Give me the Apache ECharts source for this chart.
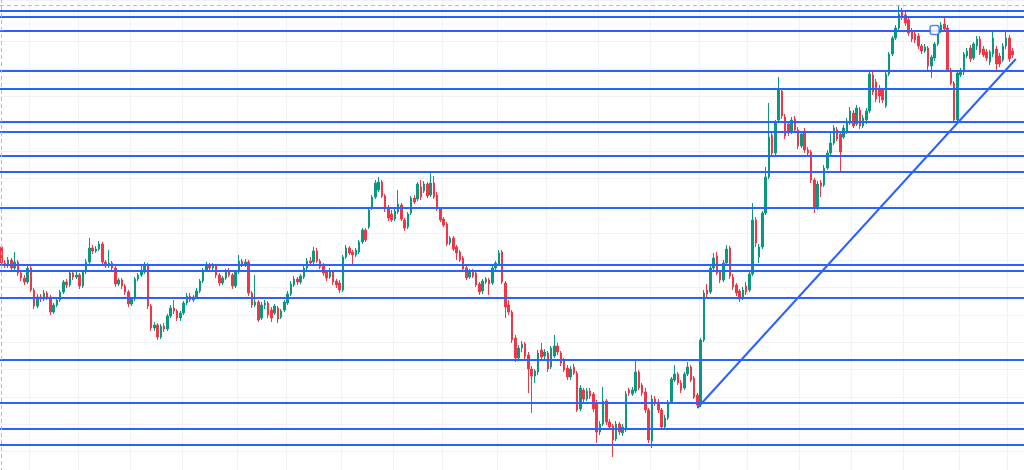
<!DOCTYPE html>
<html><head><meta charset="utf-8">
<script src="https://cdn.jsdelivr.net/npm/echarts@6/dist/echarts.min.js"></script>
<style>html,body{margin:0;padding:0;background:#fff;overflow:hidden}#c{width:1024px;height:470px}</style>
</head><body><div id="c"></div>
<script>
// [open, close, low, high]
const candles = [
[232,216,213,235],[216,214,211,219],[214,219,211,222],[219,211,208,221],[211,217,209,227],
[217,206,203,219],[206,201,198,209],[201,197,194,204],[197,211,195,213],[211,189,187,213],
[189,173,170,191],[173,182,171,185],[182,180,177,185],[180,186,178,189],[186,182,179,188],
[182,167,164,184],[167,174,165,176],[174,179,172,181],[179,187,177,189],[187,197,185,199],
[197,194,191,200],[194,206,192,208],[206,202,199,209],[202,204,200,207],[204,193,190,206],
[193,207,191,209],[207,217,205,220],[217,231,215,241],[231,228,225,234],[228,230,226,233],
[230,235,228,238],[235,217,214,237],[217,213,211,219],[213,216,211,229],[216,211,208,218],
[211,195,192,213],[195,199,193,201],[199,193,190,201],[193,187,184,195],[187,175,172,189],
[175,180,173,182],[180,200,178,202],[200,204,198,206],[204,207,202,215],[207,214,205,217],
[214,173,170,216],[173,151,148,175],[151,154,148,157],[154,142,139,156],[142,153,140,155],
[153,150,147,156],[150,163,148,165],[163,171,161,174],[171,168,165,179],[168,161,158,170],
[161,166,158,168],[166,176,164,178],[176,183,174,186],[183,179,177,186],[179,182,177,184],
[182,188,180,191],[188,198,186,200],[198,209,196,211],[209,214,207,217],[214,211,209,216],
[211,213,209,216],[213,204,201,215],[204,196,193,206],[196,201,194,203],[201,208,199,210],
[208,204,202,211],[204,193,190,206],[193,207,191,209],[207,218,205,224],[218,214,212,220],
[214,217,212,220],[217,186,183,219],[186,174,171,188],[174,177,172,204],[177,159,157,179],
[161,174,159,177],[174,176,170,179],[176,164,161,178],[169,161,157,172],[166,173,164,175],
[171,160,156,173],[162,168,160,170],[169,177,167,179],[176,185,174,188],[185,195,183,198],
[194,200,192,203],[200,197,194,202],[197,203,195,205],[202,211,200,214],[211,218,209,221],
[218,216,213,222],[217,228,215,232],[228,218,216,231],[218,212,210,220],[213,206,203,216],
[207,201,198,209],[202,208,200,211],[207,197,194,209],[198,194,191,200],[196,189,186,199],
[189,222,187,224],[222,231,220,234],[231,226,224,233],[227,224,214,229],[224,229,222,231],
[227,237,225,239],[237,249,235,251],[249,239,237,251],[252,269,250,271],[271,282,269,284],
[282,296,280,299],[289,297,287,302],[297,283,281,299],[283,270,267,285],[271,261,258,274],
[265,259,257,269],[260,268,258,271],[267,275,265,289],[274,260,258,276],[259,251,248,261],
[252,265,250,267],[266,281,264,283],[281,277,275,284],[280,295,278,297],[292,282,279,299],
[288,295,286,298],[295,283,281,297],[284,296,282,306],[296,282,280,303],[284,270,268,287],
[270,259,257,272],[260,254,252,262],[255,235,233,257],[236,241,234,243],[241,230,228,243],
[232,226,219,234],[227,219,217,229],[221,210,207,223],[211,201,199,213],[202,208,200,210],
[208,203,201,210],[206,194,192,208],[195,187,184,197],[188,198,185,200],[197,200,195,202],
[199,195,184,201],[196,211,194,213],[211,216,209,218],[215,226,213,229],[227,197,195,229],
[196,172,161,198],[174,167,164,179],[167,139,136,169],
[141,121,117,144],[121,131,118,134],[131,135,127,138],[135,123,119,137],[124,110,86,127],
[110,103,66,113],[103,108,96,110],[107,126,104,129],[129,122,120,136],[123,127,120,130],
[126,110,107,128],[112,131,110,133],[123,133,121,144],[133,127,124,136],[126,116,113,128],
[118,109,107,121],[111,102,99,114],[102,110,99,113],[112,106,104,115],[106,69,67,108],
[70,91,68,94],[89,80,77,91],[80,88,78,91],[88,83,80,91],[85,70,67,87],
[75,47,36,79],[47,55,44,58],[55,78,53,92],[78,57,54,80],[57,52,49,60],
[53,39,22,55],[40,55,38,58],[55,47,44,57],[46,52,43,55],[49,85,47,88],
[89,86,83,91],[85,89,83,92],[88,107,86,119],[107,91,89,109],[94,86,83,96],
[87,69,66,91],[69,39,36,71],[38,80,31,84],[80,76,73,83],[77,69,66,80],
[69,52,49,71],[52,61,50,64],[61,77,59,79],[77,100,75,102],[99,105,97,114],
[105,96,94,107],[96,89,86,99],[91,105,89,107],[105,112,103,117],[112,99,97,114],
[101,82,80,103],[84,74,71,86],
[75,139,72,141],[139,186,137,189],[189,185,182,195],[187,211,185,214],[211,221,207,226],
[223,206,204,227],[207,199,196,209],[199,216,197,219],[216,230,214,234],[231,203,200,233],
[202,192,189,205],[194,186,183,196],[188,180,177,190],[181,189,179,192],[193,187,184,197],
[189,205,187,207],[205,259,203,276],[259,236,232,262],[222,232,216,235],[232,266,230,268],
[266,302,264,312],[302,342,300,376],[344,326,323,347],[326,356,323,359],
[359,389,356,402],[388,363,360,391],[362,343,340,365],[355,346,343,358],[347,359,345,362],
[360,349,347,363],[349,333,330,352],[333,345,331,348],[348,329,326,351],[329,326,323,332],
[327,299,296,329],[299,271,266,301],[272,295,269,298],[296,293,282,299],[294,311,292,314],
[311,326,309,329],[326,336,324,346],[336,351,334,354],[349,340,338,352],[345,327,306,348],
[342,351,340,354],[347,358,345,361],[356,368,354,372],[366,353,351,369],[355,371,353,374],
[369,353,350,372],[353,361,351,364],[359,368,355,371],[368,405,366,407],[404,387,384,407],
[397,380,377,400],[391,383,376,394],[389,379,376,391],[373,405,371,407],[405,425,403,427],
[425,441,423,443],[441,451,439,454],[451,465,449,474],[467,461,459,471],[464,456,453,467],
[459,446,443,462],[448,440,437,451],[445,439,436,449],[443,433,430,446],[433,428,425,435],
[428,432,426,435],[431,413,409,433],[413,422,401,424],[421,435,418,437],[435,448,433,450],
[448,454,446,457],[455,450,448,462],[451,409,407,454],[409,396,394,411],[396,359,356,398],
[359,406,356,409],[404,408,402,411],[407,425,404,427],[423,428,421,431],[431,420,417,434],
[421,435,419,437],[433,440,429,443],[440,426,424,443],[430,424,422,433],[427,421,418,430],
[417,427,414,429],[425,441,422,449],[430,415,409,433],[423,415,412,426],[419,433,417,436],
[433,441,430,448],[441,420,417,444],[428,424,421,431]
];
const levels = [468.3, 462.7, 448.7, 408.2, 390.7, 356.9, 347.5, 323.2, 307.7, 271, 214, 208.3, 181.7, 119.7, 76.3, 50.3, 33.8];
const trendLine = [[214, 71], [312, 420]];
const handlePoint = [[287, 449]];
const gridColumns = [9, 24, 40, 56, 73, 88, 105, 121, 136, 153, 168, 184, 200, 215, 230, 246, 262, 278, 295, 310];
const topBound = 474;
const emptySlots = 3;

const categories = [];
for (let i = 0; i < candles.length + emptySlots; i++) categories.push(String(i));
const colSet = new Set(gridColumns);

const BLUE = '#2962ff';
const chart = echarts.init(document.getElementById('c'), null, {renderer: 'canvas'});
chart.setOption({
  animation: false,
  backgroundColor: '#ffffff',
  grid: {left: 0, right: 0, top: 0, bottom: -9, containLabel: false, outerBoundsMode: 'none'},
  xAxis: {
    type: 'category', data: categories, boundaryGap: true,
    axisLine: {show: false}, axisTick: {show: false}, axisLabel: {show: false},
    splitLine: {show: true, interval: (idx) => colSet.has(idx), lineStyle: {color: '#f0f2f5', width: 1}}
  },
  yAxis: {
    type: 'value', min: 0, max: 479, interval: 82 / 3,
    axisLine: {show: false}, axisTick: {show: false}, axisLabel: {show: false},
    splitLine: {show: true, lineStyle: {color: '#f0f2f5', width: 1}}
  },
  series: [
    {
      type: 'candlestick', data: candles, barWidth: 2,
      itemStyle: {color: '#089981', color0: '#f23645', borderColor: '#089981', borderColor0: '#f23645', borderWidth: 1},
      emphasis: {disabled: true},
      markLine: {
        silent: true, symbol: ['none', 'none'], animation: false,
        label: {show: false},
        lineStyle: {color: BLUE, width: 2, type: 'solid'},
        data: levels.map(v => ({yAxis: v})).concat([
          {yAxis: topBound, lineStyle: {color: '#bbbbbb', width: 1, type: [4, 3]}},
          {xAxis: 0, lineStyle: {color: '#bbbbbb', width: 1, type: [4, 3]}}
        ])
      }
    },
    {
      type: 'line', data: trendLine, symbol: 'none', silent: true,
      lineStyle: {color: BLUE, width: 2}, z: 6
    },
    {
      type: 'scatter', data: handlePoint, symbol: 'roundRect', symbolSize: 9, silent: true, z: 7,
      itemStyle: {color: '#ffffff', borderColor: BLUE, borderWidth: 1.5}
    }
  ]
});
</script></body></html>
